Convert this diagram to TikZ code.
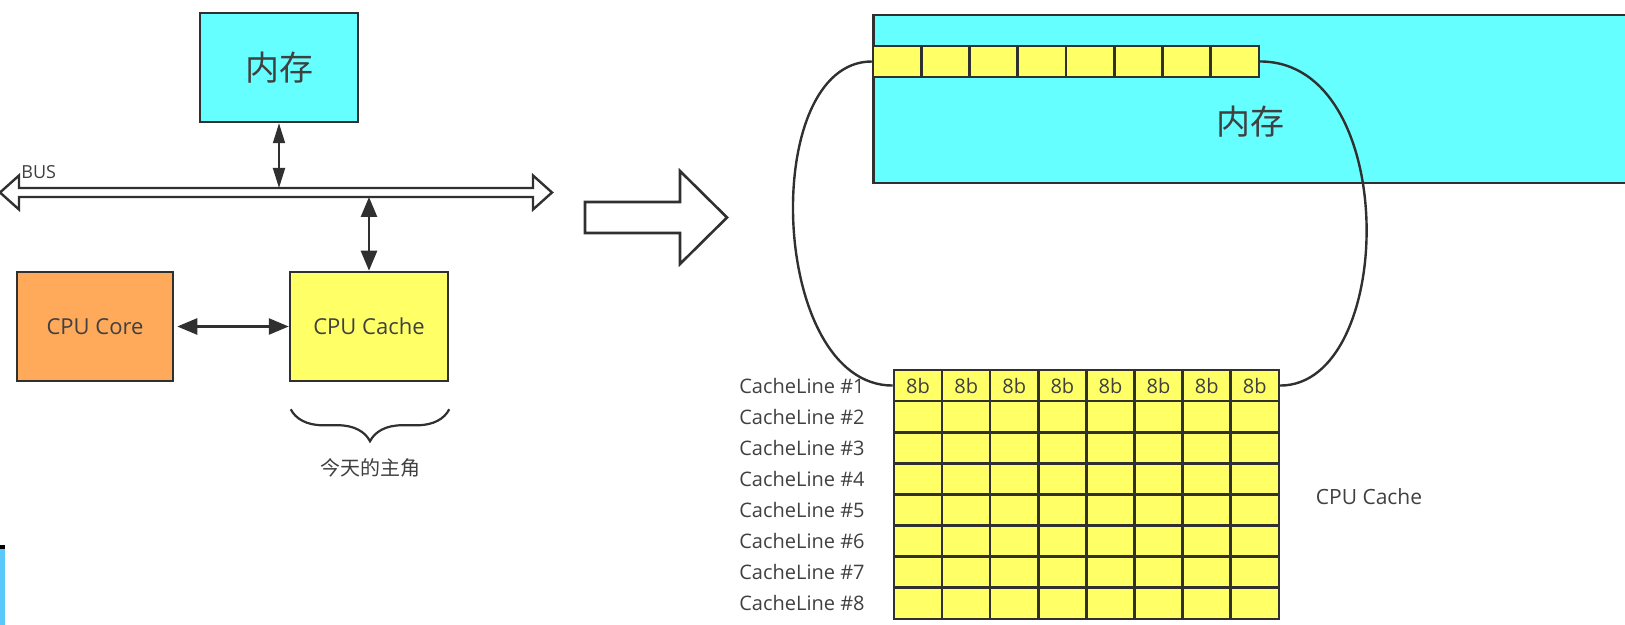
\documentclass[tikz,border=0pt]{standalone}
\usepackage{fontspec}
\setmainfont{Open Sans}
\newfontfamily\cjk{Noto Sans CJK SC}
\usetikzlibrary{arrows.meta,decorations.pathreplacing}
\definecolor{ramcyan}{HTML}{66FFFF}
\definecolor{cacheyellow}{HTML}{FFFF66}
\definecolor{coreorange}{HTML}{FFAA5A}
\definecolor{edgegray}{HTML}{303030}
\definecolor{txtgray}{HTML}{404040}
\definecolor{fragblue}{HTML}{5BC8FC}
\tikzset{
  box/.style={draw=edgegray, line width=1.25pt, inner sep=0pt, text=txtgray},
  cell/.style={box, fill=cacheyellow, minimum width=24.1pt, minimum height=15.5pt, font=\fontsize{10}{12}\selectfont},
  lbl/.style={text=txtgray, inner sep=0pt, font=\fontsize{10}{12}\selectfont},
  biarrow/.style={edgegray, line width=1.3pt, {Triangle[length=10pt,width=8pt]}-{Triangle[length=10pt,width=8pt]}},
}
\begin{document}
\begin{tikzpicture}[x=0.5pt,y=-0.5pt]
\useasboundingbox (0,0) rectangle (1625,625);
\clip (0,0) rectangle (1625,625);
% left: memory, bus, core and cache
\node[box, fill=ramcyan, minimum width=79pt, minimum height=54.5pt, font=\cjk\fontsize{17}{20}\selectfont] (mem) at (279,67.5) {内存};
\node[box, fill=coreorange, minimum width=78pt, minimum height=54.5pt, font=\fontsize{11}{13}\selectfont] (core) at (95,326.5) {CPU Core};
\node[box, fill=cacheyellow, minimum width=79pt, minimum height=54.5pt, font=\fontsize{11}{13}\selectfont] (cache) at (369,326.5) {CPU Cache};
\coordinate (busT) at (0,188);
\coordinate (busB) at (0,197);
\draw[edgegray, line width=1.2pt, fill=white] (0,192.5) -- (19,175.5) -- (19,188) -- (533,188) -- (533,175.5) -- (552,192.5)
  -- (533,209.5) -- (533,197) -- (19,197) -- (19,209.5) -- cycle;
\node[lbl, font=\fontsize{9}{10}\selectfont, anchor=base west] (buslbl) at (21,179) {BUS};
\draw[biarrow, line width=0.9pt, {Triangle[length=10pt,width=6pt]}-{Triangle[length=10pt,width=6pt]}] (mem.south) -- (mem.south |- busT);
\draw[biarrow] (cache.north |- busB) -- (cache.north);
\draw[biarrow] ([xshift=1.5pt]core.east) -- (cache.west);
\draw[edgegray, line width=1.1pt, decorate, decoration={brace, mirror, amplitude=16pt}]
  ([xshift=1pt,yshift=-13.5pt]cache.south west) -- ([yshift=-13.5pt]cache.south east);
\node[lbl, font=\cjk\fontsize{10}{12}\selectfont] (hero) at (370,468) {今天的主角};
% the big arrow
\draw[edgegray, line width=1.3pt, fill=white] (585,202) -- (680,202) -- (680,171) -- (727,217.5) -- (680,264) -- (680,233) -- (585,233) -- cycle;
% right: memory and the cache lines
\node[box, fill=ramcyan, anchor=north west, minimum width=400pt, minimum height=84pt] (ram) at (872,14) {};
\node[lbl, font=\cjk\fontsize{17}{20}\selectfont] (ramlbl) at (1250,122) {内存};
\foreach \i in {0,...,7}
  \node[cell] (m\i) at ({873+48.25*\i+24.1},61.5) {};
\foreach \r in {1,...,8}{
  \node[lbl, anchor=east] (cl\r) at (865,{370+31.1*\r-15.55}) {CacheLine \#\r};
  \foreach \c in {1,...,8}
    \node[cell] (c\r-\c) at ({894+48.1*\c-24.05},{370+31.1*\r-15.55}) {};
}
\foreach \c in {1,...,8}
  \node[lbl] (b\c) at (c1-\c) {8b};
\draw[edgegray, line width=1.2pt] (m0.west) .. controls +(-113,0) and +(-124,0) .. (c1-1.west);
\draw[edgegray, line width=1.2pt] (m7.east) .. controls +(141,0) and +(116,0) .. (c1-8.east);
\node[lbl, font=\fontsize{10.5}{12}\selectfont] (cachelbl) at (1369,497) {CPU Cache};
% scrap of blue at the lower left
\fill[fragblue] (0,548) rectangle (5,625);
\draw[black, line width=2pt] (0,547) -- (5,547);
\end{tikzpicture}
\end{document}
